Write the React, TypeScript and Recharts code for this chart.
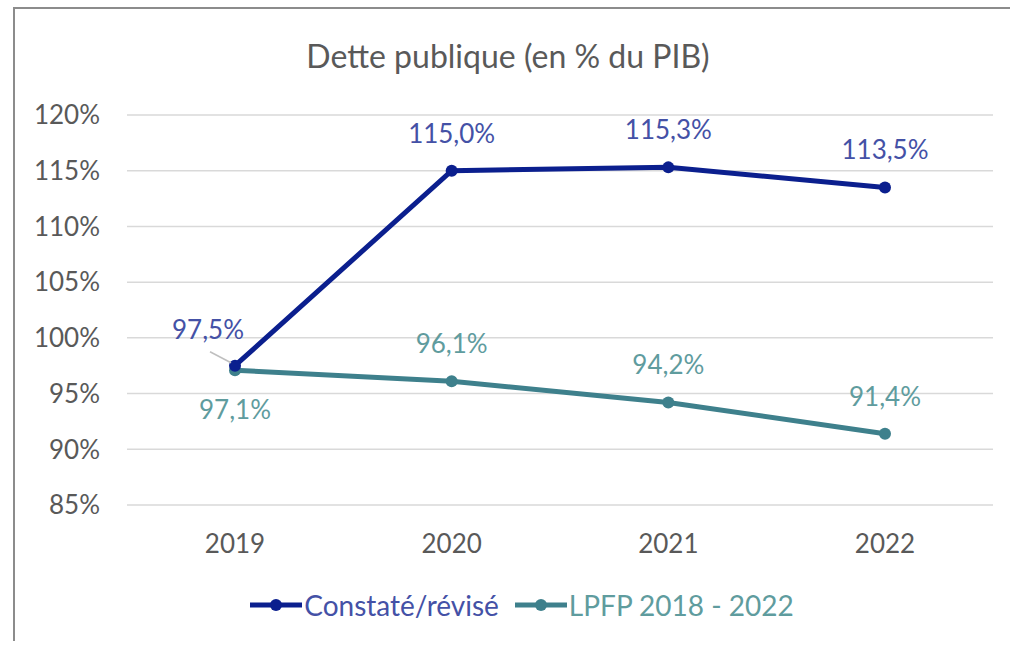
import React from 'react';
import { LineChart, Line, XAxis, YAxis, CartesianGrid, Legend, LabelList } from 'recharts';

const years = ['2019', '2020', '2021', '2022'];
const constate = [97.5, 115.0, 115.3, 113.5];
const lpfp = [97.1, 96.1, 94.2, 91.4];
const yTicks = [85, 90, 95, 100, 105, 110, 115, 120];

const BLUE = '#0b1f8e';
const BLUE_LABEL = '#4451a6';
const TEAL = '#3e808c';
const TEAL_LABEL = '#5f9c9e';
const TEXT = '#595959';
const FONT = 'Lato, "Open Sans", sans-serif';
const FS = 26;

const data = years.map((year, i) => ({ year, constate: constate[i], lpfp: lpfp[i] }));

const fmt = (v: number) => v.toFixed(1).replace('.', ',') + '%';

const BlueLabel = (props: any) => {
  const { x, y, value, index } = props;
  if (index === 0) {
    // first point overlaps the other series: label shifted left with a leader line
    return (
      <g>
        <line x1={x - 25} y1={y - 14} x2={x - 4} y2={y - 3} stroke="#bfbfbf" strokeWidth={1.5} />
        <text x={x - 27} y={y - 27} textAnchor="middle" fill={BLUE_LABEL} fontSize={FS} fontFamily={FONT}>
          {fmt(value)}
        </text>
      </g>
    );
  }
  return (
    <text x={x} y={y - 28} textAnchor="middle" fill={BLUE_LABEL} fontSize={FS} fontFamily={FONT}>
      {fmt(value)}
    </text>
  );
};

const TealLabel = (props: any) => {
  const { x, y, value, index } = props;
  const dy = index === 0 ? 49 : -28;
  return (
    <text x={x} y={y + dy} textAnchor="middle" fill={TEAL_LABEL} fontSize={FS} fontFamily={FONT}>
      {fmt(value)}
    </text>
  );
};

const LegendContent = (props: any) => {
  const { payload } = props;
  return (
    <div style={{ display: 'flex', justifyContent: 'center', gap: 16, fontFamily: FONT, fontSize: 28, lineHeight: '30px' }}>
      {payload.map((entry: any) => {
        const color = entry.color;
        const textColor = color === BLUE ? BLUE_LABEL : TEAL_LABEL;
        return (
          <div key={entry.value} style={{ display: 'flex', alignItems: 'center' }}>
            <svg width={52} height={14} style={{ marginRight: 2 }}>
              <line x1={0} y1={7} x2={52} y2={7} stroke={color} strokeWidth={5} />
              <circle cx={26} cy={7} r={6} fill={color} />
            </svg>
            <span style={{ color: textColor }}>{entry.value}</span>
          </div>
        );
      })}
    </div>
  );
};

export default function App() {
  return (
    <div style={{ position: 'absolute', left: 0, top: 0, width: 1010, height: 647, background: '#fff' }}>
      <div
        style={{
          position: 'absolute',
          left: 13,
          top: 7,
          width: 997,
          height: 634,
          borderTop: '2px solid #8c8c8c',
          borderLeft: '2px solid #8c8c8c',
          boxSizing: 'border-box',
        }}
      />
      <div
        style={{
          position: 'absolute',
          top: 40,
          left: 0,
          width: 1016,
          textAlign: 'center',
          fontFamily: FONT,
          fontSize: 32,
          lineHeight: '32px',
          color: TEXT,
        }}
      >
        Dette publique (en % du PIB)
      </div>
      <div style={{ position: 'absolute', left: 0, top: 0 }}>
        <LineChart width={1010} height={647} data={data} margin={{ top: 115, right: 17, bottom: 82, left: 0 }}>
          <CartesianGrid stroke="#d9d9d9" strokeWidth={1.5} vertical={false} />
          <XAxis
            dataKey="year"
            axisLine={false}
            tickLine={false}
            tickSize={0}
            tickMargin={30}
            height={60}
            padding={{ left: 108, right: 108 }}
            tick={{ fill: TEXT, fontSize: FS, fontFamily: FONT }}
          />
          <YAxis
            domain={[85, 120]}
            ticks={yTicks}
            width={127}
            axisLine={false}
            tickLine={false}
            tickSize={0}
            tickMargin={27}
            tickFormatter={(v: number) => `${v}%`}
            tick={{ fill: TEXT, fontSize: FS, fontFamily: FONT }}
          />
          <Legend
            layout="horizontal"
            verticalAlign="middle"
            align="center"
            content={<LegendContent />}
            wrapperStyle={{ position: 'absolute', top: 590, left: 0, width: 1044 }}
          />
          <Line
            type="linear"
            dataKey="lpfp"
            name="LPFP 2018 - 2022"
            stroke={TEAL}
            strokeWidth={5}
            dot={{ r: 6, fill: TEAL, stroke: TEAL, strokeWidth: 0 }}
            isAnimationActive={false}
          >
            <LabelList dataKey="lpfp" content={<TealLabel />} />
          </Line>
          <Line
            type="linear"
            dataKey="constate"
            name="Constaté/révisé"
            stroke={BLUE}
            strokeWidth={5}
            dot={{ r: 6, fill: BLUE, stroke: BLUE, strokeWidth: 0 }}
            isAnimationActive={false}
          >
            <LabelList dataKey="constate" content={<BlueLabel />} />
          </Line>
        </LineChart>
      </div>
    </div>
  );
}
